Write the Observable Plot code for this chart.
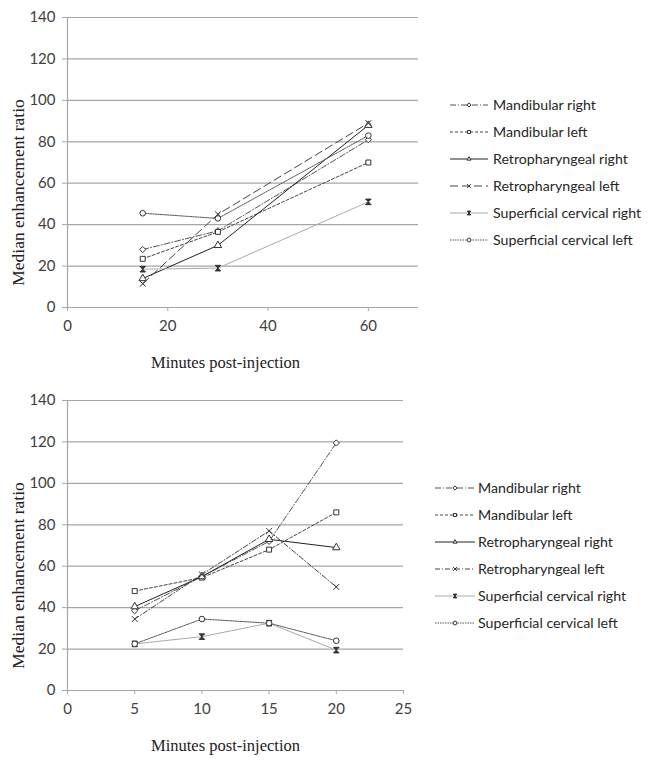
<!DOCTYPE html>
<html>
<head>
<meta charset="utf-8">
<script src="https://cdn.jsdelivr.net/npm/d3@7"></script>
<script src="https://cdn.jsdelivr.net/npm/@observablehq/plot@0.6"></script>
<style>
  body { margin: 0; background: #fff; }
  #wrap { position: relative; width: 650px; height: 772px; overflow: hidden; }
  .abs { position: absolute; left: 0; }
</style>
</head>
<body>
<div id="wrap"></div>
<script>
// ---------- data ----------
const seriesNames = [
  "Mandibular right",
  "Mandibular left",
  "Retropharyngeal right",
  "Retropharyngeal left",
  "Superficial cervical right",
  "Superficial cervical left"
];
const yTicks = [0, 20, 40, 60, 80, 100, 120, 140];

// Chart 1
const top_minutes = [15, 30, 60];
const top_xTicks = [0, 20, 40, 60];
const top_mandibularRight = [28, 37, 81];
const top_mandibularLeft = [23.5, 36.5, 70];
const top_retroRight = [14, 30, 88];
const top_retroLeft = [11.5, 45, 89];
const top_supCervRight = [18.5, 19, 51];
const top_supCervLeft = [45.5, 43, 83];

// Chart 2
const bot_minutes = [5, 10, 15, 20];
const bot_xTicks = [0, 5, 10, 15, 20, 25];
const bot_mandibularRight = [38.5, 55, 72, 119.5];
const bot_mandibularLeft = [48, 54.5, 68, 86];
const bot_retroRight = [40.5, 55, 73, 69];
const bot_retroLeft = [34.5, 56, 77, 50];
const bot_supCervRight = [22.5, 26, 32.5, 19.5];
const bot_supCervLeft = [22.5, 34.5, 32.5, 24];

// ---------- styles ----------
const hourglass = {
  draw(ctx, size) {
    const r = Math.sqrt(size / Math.PI);
    ctx.moveTo(-r, -r); ctx.lineTo(r, -r); ctx.lineTo(-r, r); ctx.lineTo(r, r); ctx.closePath();
  }
};
const baseStyles = [
  {stroke: "#555", dash: "6,2,1,2", symbol: "diamond2", fill: "white", mstroke: "#333"},
  {stroke: "#444", dash: "3,2", symbol: "square", fill: "white", mstroke: "#333"},
  {stroke: "#222", dash: null, symbol: "triangle", fill: "white", mstroke: "#333"},
  {stroke: "#444", dash: "8,4", symbol: "times", fill: "none", mstroke: "#333"},
  {stroke: "#aaa", dash: null, symbol: hourglass, fill: "#333", mstroke: "#333"},
  {stroke: "#555", dash: "1.5,1", symbol: "circle", fill: "white", mstroke: "#333"}
];
const topStyles = baseStyles;
const botStyles = baseStyles.map((s, i) => i === 3 ? {...s, dash: "5,2,1,2"} : s);

function rows(minutes, arrays) {
  return arrays.map((vals, i) => vals.map((v, j) => ({series: seriesNames[i], x: minutes[j], y: v})));
}

function makeChart({minutes, arrays, xDomain, xTicks, styles, height, marginTop, marginBottom, marginRight}) {
  const data = rows(minutes, arrays);
  const marks = [
    Plot.ruleY(yTicks, {stroke: "#a6a6a6", strokeWidth: 1.2}),
    Plot.ruleX([0], {stroke: "#a6a6a6", strokeWidth: 1.2}),
    Plot.axisY({ticks: yTicks, tickSize: 5, tickPadding: 7, stroke: "#a6a6a6", fill: "#404040", label: null, fontSize: 15}),
    Plot.axisX({ticks: xTicks, tickSize: 4, tickPadding: 9, stroke: "#a6a6a6", fill: "#404040", label: null, fontSize: 15}),
    Plot.text(["Median enhancement ratio"], {frameAnchor: "left", textAnchor: "middle", lineAnchor: "middle", rotate: -90, dx: -49, dy: 30, fontFamily: "Liberation Serif", fontSize: 17.5, fill: "#222", letterSpacing: "1.7px"}),
    Plot.text(["Minutes post-injection"], {frameAnchor: "bottom-left", textAnchor: "middle", lineAnchor: "middle", dx: 158, dy: 55, fontFamily: "Liberation Serif", fontSize: 16.5, fill: "#222"})
  ];
  data.forEach((d, i) => {
    const s = styles[i];
    marks.push(Plot.line(d, {x: "x", y: "y", stroke: s.stroke, strokeWidth: 1, strokeDasharray: s.dash || undefined}));
  });
  data.forEach((d, i) => {
    const s = styles[i];
    marks.push(Plot.dot(d, {x: "x", y: "y", symbol: () => s.symbol, r: 2.8, stroke: s.mstroke, fill: s.fill, strokeWidth: 1}));
  });
  return Plot.plot({
    width: 650,
    height,
    marginLeft: 67,
    marginRight,
    marginTop,
    marginBottom,
    x: {domain: xDomain},
    y: {domain: [0, 140]},
    symbol: {type: "identity"},
    style: {fontFamily: "Lato", fontSize: "15px", background: "transparent", overflow: "visible"},
    marks
  });
}

function makeLegend(styles, {lineX1, lineX2, textX, ys}) {
  const svg = d3.create("svg").attr("width", 650).attr("height", 772);
  const symMap = {diamond2: d3.symbolDiamond2, square: d3.symbolSquare2, triangle: d3.symbolTriangle2, times: d3.symbolTimes, circle: d3.symbolCircle};
  styles.forEach((s, i) => {
    const y = ys[i];
    svg.append("line").attr("x1", lineX1).attr("x2", lineX2).attr("y1", y).attr("y2", y)
      .attr("stroke", s.stroke).attr("stroke-width", 1).attr("stroke-dasharray", s.dash || null);
    const sym = typeof s.symbol === "string" ? symMap[s.symbol] : s.symbol;
    svg.append("path").attr("d", d3.symbol(sym, Math.PI * 1.9 * 1.9)())
      .attr("transform", `translate(${(lineX1 + lineX2) / 2},${y})`)
      .attr("fill", s.fill).attr("stroke", s.mstroke).attr("stroke-width", 1);
    svg.append("text").attr("x", textX).attr("y", y).attr("dy", "0.35em")
      .attr("font-family", "Lato").attr("font-size", 14.2).attr("fill", "#262626")
      .text(seriesNames[i]);
  });
  return svg.node();
}

const wrap = document.getElementById("wrap");

const c1 = makeChart({
  minutes: top_minutes,
  arrays: [top_mandibularRight, top_mandibularLeft, top_retroRight, top_retroLeft, top_supCervRight, top_supCervLeft],
  xDomain: [0, 70], xTicks: top_xTicks, styles: topStyles,
  height: 380, marginTop: 17, marginBottom: 73, marginRight: 232
});
c1.classList.add("abs"); c1.style.top = "0px";
wrap.appendChild(c1);

const c2 = makeChart({
  minutes: bot_minutes,
  arrays: [bot_mandibularRight, bot_mandibularLeft, bot_retroRight, bot_retroLeft, bot_supCervRight, bot_supCervLeft],
  xDomain: [0, 25], xTicks: bot_xTicks, styles: botStyles,
  height: 389, marginTop: 17, marginBottom: 82, marginRight: 247
});
c2.classList.add("abs"); c2.style.top = "383px";
wrap.appendChild(c2);

const l1 = makeLegend(topStyles, {lineX1: 450, lineX2: 488, textX: 493, ys: [105, 132, 159, 186, 213, 240]});
l1.classList.add("abs"); l1.style.top = "0px"; l1.style.pointerEvents = "none";
wrap.appendChild(l1);

const l2 = makeLegend(botStyles, {lineX1: 435, lineX2: 475, textX: 478, ys: [488, 515, 542, 569, 596, 623]});
l2.classList.add("abs"); l2.style.top = "0px"; l2.style.pointerEvents = "none";
wrap.appendChild(l2);
</script>
</body>
</html>
